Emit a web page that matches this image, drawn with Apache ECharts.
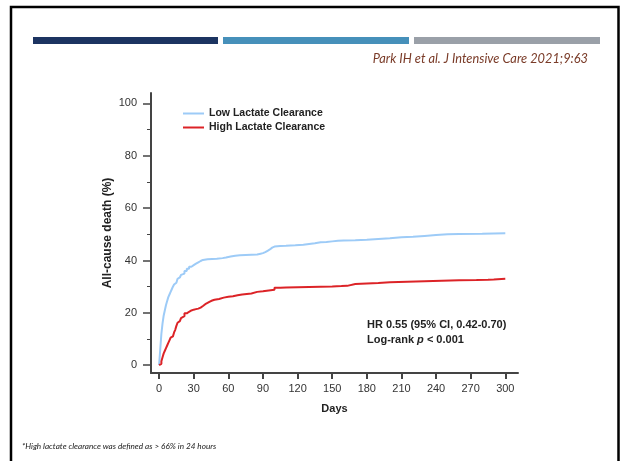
<!DOCTYPE html>
<html><head><meta charset="utf-8">
<script src="https://cdn.jsdelivr.net/npm/echarts@6/dist/echarts.min.js"></script>
<style>html,body{margin:0;padding:0;background:#fff}#c{width:621px;height:461px}</style>
</head><body><div id="c"></div>
<script>
const lowName = 'Low Lactate Clearance';
const highName = 'High Lactate Clearance';
const lowDays = [0,1,2,3,4,5,6,7,8,9,10,11,12,13,14,15,16,17,18,19,20,22,24,26,28,30,32,34,36,38,42,46,50,55,58,62,66,70,75,80,85,88,90,92,94,96,98,100,105,110,118,125,130,135,140,145,150,155,160,170,180,190,200,210,220,230,240,250,260,280,300];
const lowVals = [0,6,12,16,19,21,23,24.5,26,27,28,29,30,30.8,31.5,32.2,33,33.5,34,34.5,35,36,36.8,37.6,38.2,38.8,39.3,39.8,40.2,40.5,40.6,40.7,40.9,41.1,41.5,41.8,42,42.1,42.2,42.3,42.6,42.8,43.2,43.7,44.2,44.9,45.3,45.5,45.6,45.8,46,46.3,46.6,47,47.1,47.3,47.5,47.6,47.7,47.9,48.2,48.5,48.9,49.1,49.4,49.7,50,50.1,50.2,50.4,50.5];
const highDays = [0,1,2,3,4,5,6,7,8,9,10,11,12,13,14,15,16,17,18,19,20,22,24,26,28,30,32,34,36,38,40,42,44,46,48,52,56,60,64,68,72,76,80,85,90,95,100,105,110,120,130,140,150,158,163,170,180,190,200,215,230,245,260,275,285,290,300];
const highVals = [0,0.5,1.5,3,4.5,5.5,6.5,7.5,8.5,9.5,10.5,11,11.5,12.5,13.5,15,16.2,16.8,17.5,18,18.7,19.8,20.4,20.9,21.2,21.4,21.6,22,22.6,23.3,23.8,24.3,24.7,25,25.3,25.8,26.1,26.3,26.7,27,27.2,27.4,28,28.2,28.5,28.8,29.6,29.7,29.8,29.9,30,30.1,30.2,30.3,31,31.2,31.4,31.7,31.9,32.1,32.3,32.4,32.5,32.6,32.7,33,33.1];
const xTicks = [0,30,60,90,120,150,180,210,240,270,300];
const yTicks = [0,20,40,60,80,100];
const yMinorTicks = [10,30,50,70,90];

const chart = echarts.init(document.getElementById('c'), null, {renderer:'canvas'});
const F = '"Liberation Sans", Arial, sans-serif';
const axisCol = '#444';
const zip = (a,b) => a.map((d,i)=>[d,b[i]]);
chart.setOption({
  animation:false,
  grid:{left:151, top:93, width:367, height:280, containLabel:false},
  xAxis:{type:'value', min:-7, max:311,
    axisLine:{show:true, onZero:false, lineStyle:{color:axisCol, width:2}},
    axisTick:{show:true, customValues:xTicks, length:6, lineStyle:{color:axisCol, width:2}},
    axisLabel:{customValues:xTicks, color:'#333', fontSize:11, fontFamily:F, margin:10},
    splitLine:{show:false},
    name:'Days', nameLocation:'middle', nameGap:30,
    nameTextStyle:{fontWeight:'bold', fontSize:11, color:'#222', fontFamily:F}},
  yAxis:[{type:'value', min:-3, max:104,
    axisLine:{show:true, onZero:false, lineStyle:{color:axisCol, width:2}},
    axisTick:{show:true, customValues:yTicks, length:8, lineStyle:{color:axisCol, width:1.5}},
    axisLabel:{customValues:yTicks, color:'#333', fontSize:11, fontFamily:F, margin:14},
    splitLine:{show:false},
    name:'All-cause death (%)', nameLocation:'middle', nameGap:37, nameRotate:90, nameMoveOverlap:false,
    nameTextStyle:{fontWeight:'bold', fontSize:12, color:'#222', fontFamily:F}},
   {type:'value', min:-3, max:104, position:'left',
    axisLine:{show:false, onZero:false},
    axisTick:{show:true, customValues:yMinorTicks, length:4, lineStyle:{color:axisCol, width:1}},
    axisLabel:{show:false}, splitLine:{show:false}}],
  legend:{orient:'vertical', left:183, top:108, padding:0, itemGap:3, icon:'rect', itemWidth:21, itemHeight:2,
    textStyle:{fontWeight:'bold', fontSize:10.5, color:'#222', fontFamily:F},
    data:[lowName, highName]},
  series:[
    {name:lowName, type:'line', step:'end', showSymbol:false, symbol:'none', data:zip(lowDays,lowVals),
     lineStyle:{color:'#9dcbf7', width:2}, itemStyle:{color:'#9dcbf7'}},
    {name:highName, type:'line', step:'end', showSymbol:false, symbol:'none', data:zip(highDays,highVals),
     lineStyle:{color:'#dc2327', width:2}, itemStyle:{color:'#dc2327'}}
  ],
  graphic:[
    {type:'rect', shape:{x:11,y:7,width:607.5,height:480}, style:{fill:null, stroke:'#000', lineWidth:2.5}, silent:true},
    {type:'rect', shape:{x:33,y:37,width:185,height:7}, style:{fill:'#1c3461'}},
    {type:'rect', shape:{x:223,y:37,width:186,height:7}, style:{fill:'#4690ba'}},
    {type:'rect', shape:{x:414,y:37,width:186,height:7}, style:{fill:'#9aa0a8'}},
    {type:'text', x:588, y:59, style:{text:'Park IH et al. J Intensive Care 2021;9:63', fill:'#7a3b28',
      font:'italic 12.8px Lato, "Open Sans", sans-serif', textAlign:'right', textVerticalAlign:'middle'}},
    {type:'text', x:367, y:325, style:{text:'HR 0.55 (95% CI, 0.42-0.70)', fill:'#222',
      font:'bold 11px "Liberation Sans", Arial, sans-serif', textVerticalAlign:'middle'}},
    {type:'text', x:367, y:340, style:{text:'{a|Log-rank }{b|p}{a| < 0.001}', fill:'#222',
      textVerticalAlign:'middle',
      rich:{a:{font:'bold 11px "Liberation Sans", Arial, sans-serif', fill:'#222'},
            b:{font:'italic bold 11px "Liberation Sans", Arial, sans-serif', fill:'#222'}}}},
    {type:'text', x:22, y:446, style:{text:'*High lactate clearance was defined as > 66% in 24 hours', fill:'#222',
      font:'italic 8.2px Lato, "Open Sans", sans-serif', textVerticalAlign:'middle'}}
  ]
});
</script></body></html>
